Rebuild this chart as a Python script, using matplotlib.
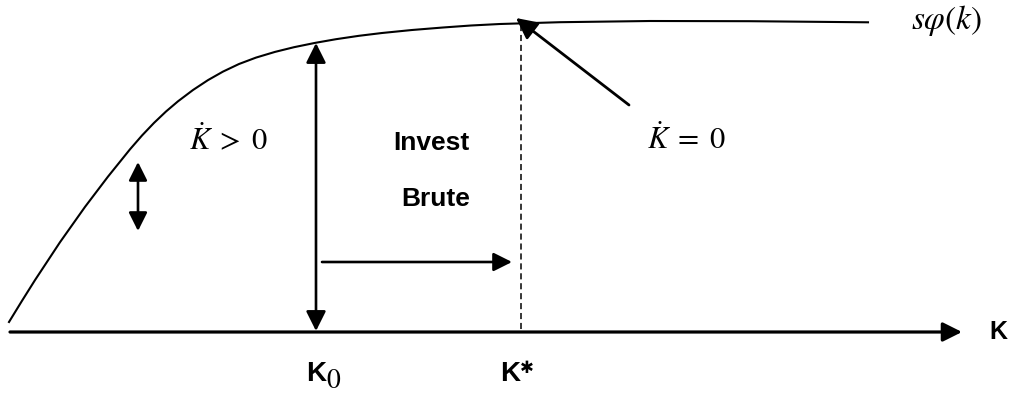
import matplotlib.pyplot as plt

plt.rcParams['mathtext.fontset'] = 'custom'
plt.rcParams['mathtext.rm'] = 'STIXGeneral'
plt.rcParams['mathtext.it'] = 'STIXGeneral:italic'
plt.rcParams['mathtext.bf'] = 'Liberation Sans:bold'

# savings curve s*phi(k) (pixel-like units, y grows downwards)
curve_k = [9, 22, 35, 60, 85, 108, 130, 142, 154, 166, 178, 193, 208, 223, 239,
           256, 275, 294, 315, 336, 359, 382, 412, 443, 471, 500, 560, 650, 750, 868]
curve_y = [322.0, 300.8, 280.1, 242.2, 206.9, 176.6, 149.3, 135.5, 122.9, 111.5,
           101.3, 90.0, 80.1, 71.6, 64.0, 57.6, 51.9, 47.2, 42.9, 39.2, 35.8, 33.0,
           30.0, 27.5, 25.5, 24.0, 22.2, 21.0, 21.2, 22.3]

k0 = 316        # initial capital
k_star = 521    # steady state capital
k_end = 962     # end of the K axis
base = 332      # level of the K axis
invest_top = 43  # curve height at k0


def arrow(ax, start, end, style='-|>', lw=2.0, ms=30):
    ax.annotate('', xy=end, xytext=start,
                arrowprops=dict(arrowstyle=style, lw=lw, color='black',
                                mutation_scale=ms, shrinkA=0, shrinkB=0))


fig = plt.figure(figsize=(10.12, 3.96), dpi=100)
ax = fig.add_axes([0, 0, 1, 1])
ax.set_xlim(0, 1012)
ax.set_ylim(396, 0)
ax.axis('off')

# curve
ax.plot(curve_k, curve_y, color='black', lw=1.5, solid_joinstyle='round')

# K axis
arrow(ax, (10, base), (k_end, base), lw=2.3, ms=29)

# investment arrow at K0
arrow(ax, (k0, base - 1), (k0, invest_top), style='<|-|>', lw=1.9, ms=30)

# small double arrow
arrow(ax, (138, 162), (138, 231), style='<|-|>', lw=1.9, ms=28)

# movement towards K*
arrow(ax, (322, 262), (512, 262), lw=1.9, ms=28)

# pointer to steady state
arrow(ax, (629, 105), (516, 18), lw=2.0, ms=32)

# dashed line at K*
ax.plot([k_star, k_star], [25, base], color='black', lw=1.1, dashes=(4, 2.5))

bold = dict(fontweight='bold', family='Liberation Sans', color='black')
ax.text(470, 143, 'Invest', ha='right', va='center', fontsize=19, **bold)
ax.text(470, 199, 'Brute', ha='right', va='center', fontsize=19, **bold)
ax.text(989, 332, 'K', ha='left', va='center', fontsize=18, **bold)

ax.text(189, 140, r'$\dot{K}\;>\;0$', ha='left', va='center', fontsize=22)
ax.text(647, 139, r'$\dot{K}\;=\;0$', ha='left', va='center', fontsize=22)
ax.text(911, 20, r'$s\varphi(k)$', ha='left', va='center', fontsize=24)

# K0 and K* labels
ax.text(306, 374, 'K', ha='left', va='center', fontsize=20, **bold)
ax.text(326, 381, '0', ha='left', va='center', fontsize=20, family='STIXGeneral')
ax.text(500, 374, 'K', ha='left', va='center', fontsize=20, **bold)
ax.text(520, 368, '\u2731', ha='left', va='center', fontsize=12, family='DejaVu Sans')

fig.savefig('out.png', dpi=100)
